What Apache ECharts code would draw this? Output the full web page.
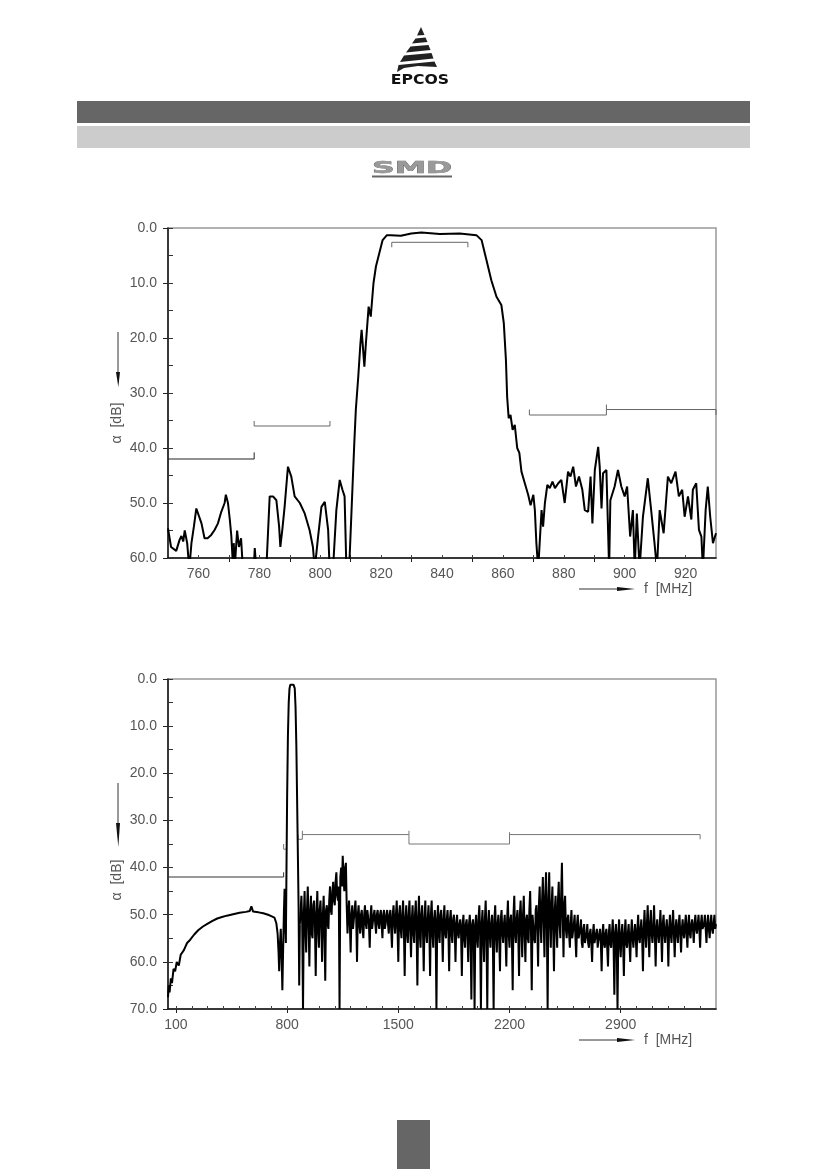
<!DOCTYPE html>
<html>
<head>
<meta charset="utf-8">
<script src="https://cdn.jsdelivr.net/npm/echarts@6.0.0/dist/echarts.min.js"></script>
<style>
html,body{margin:0;padding:0;background:#fff;}
#c{width:826px;height:1169px;}
</style>
</head>
<body>
<div id="c"></div>
<script>
// ---------- top chart: narrow band (750-930 MHz) ----------
const narrowFreq = [750,751,752.7,753.8,754.4,755,755.5,756.3,757,757.7,758.5,759.3,759.9,761,762,763,764.2,765.3,766.4,767.5,768.6,769,769.7,770.3,770.8,771.4,771.6,771.9,772.7,773.3,774,774.6,776,778,778.5,779,781,782.3,783.4,784.5,785.6,786.5,786.9,787.6,788.3,789.4,790.5,791.6,793.3,794.9,796.5,797.6,798.2,798.8,799.3,800.4,801.5,802.6,803.1,804.2,805.3,806.4,807.3,808,808.6,809.5,811.2,811.7,812.5,813.2,813.6,814.5,815,815.9,816.6,817.5,818.3,819.4,820.5,821.9,823.2,826.5,829.9,833.2,839.3,845.8,851.3,853,854.6,856.2,857.9,859.5,860.3,861,861.4,861.9,862.5,863.2,863.9,864.7,865.4,866.1,867.2,868.3,869.1,870,870.5,871,871.6,872.2,872.7,873.2,873.8,874.6,875.4,876.3,877.1,878.2,879.2,880.3,881.4,882.2,883.1,884,885,886.1,886.9,888,888.8,889.4,890.2,891.3,891.8,892.4,892.9,894,894.9,895.3,896.7,897.8,898.9,900,900.8,901.8,902.7,903.3,904,904.9,906,907.6,908.7,909.8,910.6,911.5,912.8,914.2,915.3,916.7,917.8,918.9,919.7,920.8,921.9,922.4,923.5,924.4,925.2,925.7,926.6,927.3,928.1,929,930];
const narrowAtt = [54.6,58,58.7,56.7,56,57,55,57.3,62,57.3,54.3,51,51.3,53.7,56.4,56.4,55.8,54.9,53.7,51.6,50,48.5,50,53,56,62,57.3,62,55,58,56.4,62,64,64,58.2,62,64,62,48.8,48.8,49.5,54.3,58,54.6,50.7,43.4,45.2,48.8,50,51.9,54.9,58,62,62,56.1,50.7,49.8,54.9,62,62,51.3,45.8,47.6,48.8,62,62,39,33,27,21,18.5,25.2,21,14.3,16.1,10,7,4.6,2.2,1.3,1.3,1.4,1.0,0.8,1.1,1.0,1.3,2.2,5.8,9.5,12.5,14,17.3,24,30.7,34.6,34,36.7,35.8,40,40.9,44.3,46.4,48.5,50.4,48.5,51.3,57.3,62,62,51.3,54.3,50,46.7,47.3,46.1,47.3,46.4,45.8,50,44.3,45.2,43.4,47,45.2,47.6,51.3,51.6,45.2,53.7,44,39.8,43.4,51,44.6,44,62,49.5,47,44,47,48.8,47,56.1,51.3,62,51.9,62,52.5,45.5,51.3,57.3,62,51.3,55.5,45.2,46.4,44.3,48.8,47.6,52.5,48.8,53,47.6,46.4,54.9,56.1,62,51.3,47,52.5,57.3,55.5];
const narrowSpec = [
  [[750,42],[778.3,42],[778.3,40.8]],
  [[778.3,35.1],[778.3,36],[803.2,36],[803.2,35.1]],
  [[823.5,3.5],[823.5,2.6],[848.5,2.6],[848.5,3.5]],
  [[868.7,33],[868.7,34],[894,34],[894,32.1]],
  [[894,33],[930,33],[930,34]]
];
const narrowXLabels = [760,780,800,820,840,860,880,900,920];
const narrowXTicks = [770,790,810,830,850,870,890,910];
const narrowXMinor = [760,770,780,790,800,810,820,830,840,850,860,870,880,890,900,910,920];
const narrowYLabels = [0,10,20,30,40,50,60];

// ---------- bottom chart: wide band (50-3500 MHz) ----------
const wideFreqLow = [50,55,60,68,75,85,95,105,118,130,150,170,190,215,240,270,300,330,360,390,420,460,500,540,565,575,585,620,650,680,700,720,732,740,746,750,755,760,766,770,775,780,784,788,792,796,800,805,810,815,820,830,840,848,853,858,863,868,872,876,880];
const wideAttLow = [67.5,65,66.5,63.5,64.5,61.5,62,60,60.8,58.5,57.5,56,55.3,54.2,53.3,52.5,51.9,51.3,50.8,50.5,50.2,49.9,49.6,49.4,49.2,48.2,49.3,49.5,49.7,50,50.3,50.6,51.8,54,58,62,56,53,60,66,57,49,44.5,51,56,40,25,12,5,2,1.2,1.0,1.2,2,6,14,26,38,48,65,52];
const wideNoiseStart = 890;   // MHz, measurement grid start
const wideNoiseStep = 5;      // MHz, measurement grid step
const wideNoiseAtt = [
  46,52,70,50,45,53,58,49,44,51,61,50,46,54,55,48,47,52,
  63,50,45,53,57,49,47,52,60,50,46,54,64,49,48,52,53,47,44,49,
  50,45,43,47,48,43,41,46,47,44,70,42,40,44,37.5,42,45,40,39,48,
  54,50,47,52,58,50,48,53,53,49,47,51,60,50,48,52,54,50,49,53,
  55,50,48,52,53,49,49,52,57,50,48,53,53,50,49,52,54,50,49,52,
  53,50,49,52,55,50,49,53,52,50,49,52,54,50,49,53,57,50,48,52,
  54,50,47,53,60,50,48,53,55,50,47,53,63,51,48,54,56,50,47,53,
  59,51,48,54,56,50,47,53,65,51,46,54,57,50,48,53,62,51,47,54,
  56,51,48,53,63,50,47,54,57,51,49,53,70,51,48,54,56,50,49,53,
  60,51,48,54,55,51,49,53,62,51,49,54,56,51,50,53,60,52,50,54,
  55,52,51,54,63,52,50,55,57,52,51,54,60,52,50,55,68,52,51,54,
  70,52,50,55,57,51,48,54,70,52,49,55,60,51,47,54,70,52,49,54,
  57,52,50,55,70,51,48,54,58,52,50,55,62,51,49,54,56,52,50,55,
  61,51,47,54,57,51,50,55,66,50,46,54,56,51,49,54,63,50,47,53,
  59,50,46,54,60,51,50,55,56,49,45,53,66,50,50,55,56,49,48,53,
  61,48,44,52,56,47,42,51,59,46,41,52,70,47,41,51,57,48,44,53,
  62,49,46,53,57,47,43,52,55,46,39,50,59,48,46,53,55,51,50,54,
  57,52,49,55,55,52,50,55,59,52,50,55,55,53,51,56,57,53,52,56,
  56,54,52,56,57,54,53,56,60,54,52,56,56,54,53,57,57,54,53,56,
  62,54,52,56,57,54,53,57,61,54,52,56,57,54,51,56,67,54,52,56,
  70,54,51,56,59,54,52,56,63,54,51,56,57,54,52,56,60,54,51,55,
  57,54,52,55,59,53,50,55,56,53,51,55,62,53,49,54,57,52,48,54,
  59,52,49,54,56,53,48,54,61,53,51,54,56,53,49,54,60,52,50,54,
  56,53,51,54,61,53,50,54,56,52,49,54,59,53,51,54,56,52,50,54,
  58,53,51,54,55,52,50,54,57,52,50,54,55,52,51,53,56,52,50,53,
  54,52,50,53,57,52,50,53,53,52,50,53,56,52,50,53,55,52,50,53,
  54,52,50,53,52
];
const wideSpec = [
  [[50,42],[778,42],[778,41]],
  [[778,35],[778,36.1],[795,36.1]],
  [[868,33],[868,34],[896,34],[896,32.2]],
  [[896,33],[1567,33],[1567,32.2]],
  [[1567,33],[1567,35],[2200,35],[2200,32.5]],
  [[2200,33],[3400,33],[3400,34]]
];
const wideXLabels = [100,800,1500,2200,2900];
const wideXMinor = [100,200,300,400,500,600,700,800,900,1000,1100,1200,1300,1400,1500,1600,1700,1800,1900,2000,2100,2200,2300,2400,2500,2600,2700,2800,2900,3000,3100,3200,3300,3400];
const wideYLabels = [0,10,20,30,40,50,60,70];

// ---------- build ----------
const narrowData = narrowFreq.map((f,i)=>[f,narrowAtt[i]]);
const wideLowData = wideFreqLow.map((f,i)=>[f,wideAttLow[i]]);
const wideNoiseData = [wideLowData[wideLowData.length-1]]
  .concat(wideNoiseAtt.map((a,i)=>[wideNoiseStart+i*wideNoiseStep,a]));

const labelFont = {color:'#555', fontSize:14, fontFamily:'Liberation Sans'};
const halfSteps = (max)=>{const r=[];for(let v=0;v<=max;v+=5) r.push(v);return r;};

function mainX(grid,min,max,labels,ticks){
  return {type:'value',gridIndex:grid,min:min,max:max,position:'bottom',
     axisLine:{show:true,onZero:false,lineStyle:{color:'#111',width:1.5}},
     axisTick:{show:true,inside:false,length:4,customValues:ticks,lineStyle:{color:'#222',width:1}},
     axisLabel:Object.assign({show:true,margin:9,customValues:labels,formatter:v=>String(v)},labelFont),
     splitLine:{show:false}};
}
function minorX(grid,min,max,ticks){
  return {type:'value',gridIndex:grid,min:min,max:max,position:'bottom',
     axisLine:{show:false,onZero:false},
     axisTick:{show:true,inside:true,length:3,customValues:ticks,lineStyle:{color:'#444',width:1}},
     axisLabel:{show:false},splitLine:{show:false}};
}
function mainY(grid,max,labels){
  return {type:'value',gridIndex:grid,min:0,max:max,inverse:true,position:'left',
     axisLine:{show:true,onZero:false,lineStyle:{color:'#111',width:1.5}},
     axisTick:{show:true,inside:false,length:5,customValues:labels,lineStyle:{color:'#222',width:1}},
     axisLabel:Object.assign({show:true,margin:11,customValues:labels,formatter:v=>Number(v).toFixed(1)},labelFont),
     splitLine:{show:false}};
}
function minorY(grid,max){
  return {type:'value',gridIndex:grid,min:0,max:max,inverse:true,position:'left',
     axisLine:{show:false,onZero:false},
     axisTick:{show:true,inside:true,length:5,customValues:halfSteps(max),lineStyle:{color:'#333',width:1}},
     axisLabel:{show:false},splitLine:{show:false}};
}

const series = [];
series.push({type:'line',xAxisIndex:0,yAxisIndex:0,data:narrowData,symbol:'none',clip:true,
  lineStyle:{color:'#000',width:2},z:3});
narrowSpec.forEach((seg,i)=>series.push({type:'line',xAxisIndex:0,yAxisIndex:0,data:seg,symbol:'none',
  lineStyle:{color:i===0?'#222':'#666',width:1},z:2}));
series.push({type:'line',xAxisIndex:1,yAxisIndex:1,data:wideLowData,symbol:'none',clip:true,
  lineStyle:{color:'#000',width:2},z:3});
series.push({type:'line',xAxisIndex:1,yAxisIndex:1,data:wideNoiseData,symbol:'none',clip:true,sampling:null,
  lineStyle:{color:'#000',width:2},z:3});
wideSpec.forEach((seg,i)=>series.push({type:'line',xAxisIndex:1,yAxisIndex:1,data:seg,symbol:'none',
  lineStyle:{color:i===0?'#333':'#777',width:1},z:2}));

const txt = {fill:'#555', fontSize:14, fontFamily:'Liberation Sans'};
function yName(cy, shaftTop, shaftBot, headBot){
  return [
    {type:'line',shape:{x1:118,y1:shaftTop,x2:118,y2:shaftBot},style:{stroke:'#333',lineWidth:1}},
    {type:'polygon',shape:{points:[[116,shaftBot-2],[120,shaftBot-2],[118.3,headBot]]},style:{fill:'#111'}},
    {type:'text',x:117,y:cy,rotation:Math.PI/2,style:Object.assign({text:'α  [dB]',align:'center',verticalAlign:'middle'},txt)}
  ];
}
function xName(y){
  return [
    {type:'line',shape:{x1:579,y1:y,x2:620,y2:y},style:{stroke:'#333',lineWidth:1}},
    {type:'polygon',shape:{points:[[617,y-2],[617,y+2],[635,y]]},style:{fill:'#111'}},
    {type:'text',x:644,y:y,style:Object.assign({text:'f  [MHz]',align:'left',verticalAlign:'middle'},txt)}
  ];
}

const graphics = [
  // EPCOS logo
  {type:'polygon',shape:{points:[[421,27],[424.5,35],[417,35.5]]},style:{fill:'#222'}},
  {type:'polygon',shape:{points:[[415.5,38.5],[425.5,37.5],[427.5,42],[412,43.5]]},style:{fill:'#222'}},
  {type:'polygon',shape:{points:[[410.5,46.5],[428.5,45],[430.5,50],[406,52.5]]},style:{fill:'#222'}},
  {type:'polygon',shape:{points:[[404,55.5],[431.5,53],[433.5,58.5],[400,62]]},style:{fill:'#222'}},
  {type:'polygon',shape:{points:[[398.5,65],[434.5,61.5],[437,67],[418,66],[404,68],[397,72]]},style:{fill:'#222'}},
  {type:'text',x:420,y:80,scaleX:1.12,style:{text:'EPCOS',align:'center',verticalAlign:'middle',fill:'#111',
    fontSize:14,fontWeight:'bold',fontFamily:'DejaVu Sans'}},
  // header bars
  {type:'rect',shape:{x:77,y:101,width:673,height:22},style:{fill:'#666'}},
  {type:'rect',shape:{x:77,y:126,width:673,height:22},style:{fill:'#ccc'}},
  // SMD logo
  {type:'text',x:372,y:169,scaleX:2.1,style:{text:'SMD',align:'left',verticalAlign:'middle',fill:'#999',
    stroke:'#666',lineWidth:0.5,fontSize:15,fontWeight:'bold',fontFamily:'DejaVu Sans'}},
  {type:'rect',shape:{x:372,y:175.5,width:80,height:2},style:{fill:'#666'}},
  // page tab
  {type:'rect',shape:{x:397,y:1120,width:33,height:49},style:{fill:'#666'}}
]
.concat(yName(423,332,374,387))
.concat(xName(589))
.concat(yName(880,783,825,847))
.concat(xName(1040));

const topRect = {left:168,top:228,width:548,height:330};
const botRect = {left:168,top:679,width:548,height:330};

const chart = echarts.init(document.getElementById('c'),null,{renderer:'canvas'});
chart.setOption({
  animation:false,
  backgroundColor:'#fff',
  grid:[
    Object.assign({show:true,borderColor:'#999',borderWidth:1.5,backgroundColor:'transparent'},topRect),
    Object.assign({show:true,borderColor:'#999',borderWidth:1.5,backgroundColor:'transparent'},botRect),
    Object.assign({show:false},topRect),
    Object.assign({show:false},botRect)
  ],
  xAxis:[
    mainX(0,750,930,narrowXLabels,narrowXTicks),
    mainX(1,50,3500,wideXLabels,wideXLabels),
    minorX(2,750,930,narrowXMinor),
    minorX(3,50,3500,wideXMinor)
  ],
  yAxis:[
    mainY(0,60,narrowYLabels),
    mainY(1,70,wideYLabels),
    minorY(2,60),
    minorY(3,70)
  ],
  series: series,
  graphic: graphics
});
</script>
</body>
</html>
